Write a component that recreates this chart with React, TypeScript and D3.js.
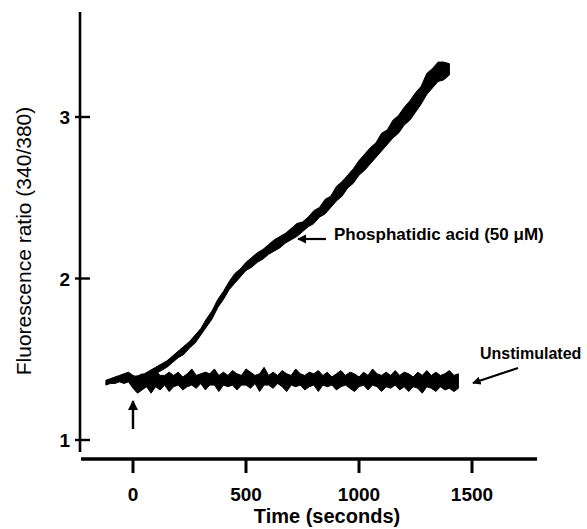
import * as d3 from "d3";

// time (s) and band (low/high) of the unstimulated trace
const unstimTime = [-120, -100, -80, -60, -40, -20, 0, 20, 40, 60, 80, 100, 120, 140, 160, 180, 200, 220, 240, 260, 280, 300, 320, 340, 360, 380, 400, 420, 440, 460, 480, 500, 520, 540, 560, 580, 600, 620, 640, 660, 680, 700, 720, 740, 760, 780, 800, 820, 840, 860, 880, 900, 920, 940, 960, 980, 1000, 1020, 1040, 1060, 1080, 1100, 1120, 1140, 1160, 1180, 1200, 1220, 1240, 1260, 1280, 1300, 1320, 1340, 1360, 1380, 1400, 1420, 1440];
const unstimLow = [1.34, 1.35, 1.35, 1.36, 1.35, 1.36, 1.32, 1.29, 1.31, 1.33, 1.29, 1.33, 1.31, 1.34, 1.30, 1.33, 1.34, 1.31, 1.33, 1.34, 1.32, 1.35, 1.31, 1.34, 1.34, 1.30, 1.34, 1.33, 1.34, 1.31, 1.34, 1.34, 1.32, 1.35, 1.30, 1.34, 1.34, 1.32, 1.35, 1.33, 1.30, 1.34, 1.33, 1.34, 1.31, 1.33, 1.34, 1.30, 1.34, 1.33, 1.34, 1.31, 1.33, 1.34, 1.32, 1.30, 1.33, 1.34, 1.31, 1.34, 1.33, 1.30, 1.33, 1.32, 1.34, 1.31, 1.33, 1.30, 1.33, 1.32, 1.29, 1.33, 1.32, 1.30, 1.33, 1.31, 1.32, 1.30, 1.32];
const unstimHigh = [1.37, 1.38, 1.39, 1.40, 1.41, 1.42, 1.40, 1.39, 1.41, 1.39, 1.41, 1.43, 1.40, 1.40, 1.42, 1.40, 1.42, 1.39, 1.41, 1.44, 1.40, 1.41, 1.42, 1.41, 1.44, 1.40, 1.42, 1.40, 1.43, 1.41, 1.40, 1.44, 1.42, 1.40, 1.41, 1.45, 1.40, 1.42, 1.40, 1.43, 1.41, 1.40, 1.44, 1.41, 1.40, 1.42, 1.41, 1.43, 1.40, 1.42, 1.39, 1.41, 1.43, 1.40, 1.42, 1.41, 1.39, 1.42, 1.40, 1.44, 1.41, 1.40, 1.42, 1.40, 1.43, 1.40, 1.42, 1.41, 1.39, 1.42, 1.40, 1.43, 1.40, 1.42, 1.40, 1.41, 1.43, 1.40, 1.41];

// phosphatidic acid trace
const paTime = [0, 25, 50, 75, 100, 125, 150, 175, 200, 225, 250, 275, 300, 325, 350, 375, 400, 425, 450, 475, 500, 525, 550, 575, 600, 625, 650, 675, 700, 725, 750, 775, 800, 825, 850, 875, 900, 925, 950, 975, 1000, 1025, 1050, 1075, 1100, 1125, 1150, 1175, 1200, 1225, 1250, 1275, 1300, 1325, 1350, 1375, 1400];
const paLow = [1.35, 1.36, 1.37, 1.39, 1.41, 1.43, 1.45, 1.48, 1.51, 1.53, 1.57, 1.60, 1.65, 1.70, 1.75, 1.82, 1.87, 1.93, 1.97, 2.01, 2.05, 2.07, 2.10, 2.12, 2.15, 2.17, 2.19, 2.22, 2.24, 2.26, 2.29, 2.32, 2.34, 2.38, 2.40, 2.44, 2.48, 2.51, 2.56, 2.59, 2.64, 2.67, 2.71, 2.75, 2.79, 2.83, 2.87, 2.90, 2.95, 2.98, 3.03, 3.08, 3.14, 3.18, 3.22, 3.23, 3.26];
const paHigh = [1.39, 1.40, 1.41, 1.43, 1.45, 1.47, 1.49, 1.52, 1.55, 1.58, 1.61, 1.65, 1.69, 1.75, 1.80, 1.87, 1.92, 1.98, 2.03, 2.06, 2.10, 2.13, 2.16, 2.18, 2.21, 2.24, 2.26, 2.28, 2.31, 2.34, 2.35, 2.38, 2.42, 2.44, 2.49, 2.51, 2.57, 2.60, 2.64, 2.68, 2.73, 2.77, 2.81, 2.84, 2.90, 2.92, 2.98, 3.01, 3.06, 3.10, 3.15, 3.19, 3.27, 3.30, 3.34, 3.34, 3.33];

const xTicks = [0, 500, 1000, 1500];
const yTicks = [1, 2, 3];

const font = "'Liberation Sans', Arial, Helvetica, sans-serif";

export default function App() {
  const width = 587, height = 529;
  const x = d3.scaleLinear([0, 1500], [133, 472]);
  const y = d3.scaleLinear([1, 3], [440, 117]);

  const area = d3.area<number[]>()
    .x(d => x(d[0]))
    .y0(d => y(d[1]))
    .y1(d => y(d[2]));

  const unstim = unstimTime.map((t, i) => [t, unstimLow[i], unstimHigh[i]]);
  const pa = paTime.map((t, i) => [t, paLow[i], paHigh[i]]);

  return (
    <svg width={width} height={height} style={{position: "absolute", left: 0, top: 0}} fontFamily={font}>
      <defs>
        <marker id="head" viewBox="0 0 10 10" refX="9" refY="5" markerWidth="4.2" markerHeight="4.2" orient="auto">
          <path d="M0,0 L10,5 L0,10 z" fill="#000"/>
        </marker>
      </defs>

      {/* y axis */}
      <line x1={80} x2={80} y1={y(3.65)} y2={y(0.926)} stroke="#000" strokeWidth={2.6}/>
      {yTicks.map(t => (
        <g key={t}>
          <line x1={75} x2={90} y1={y(t)} y2={y(t)} stroke="#000" strokeWidth={2.4}/>
          <text x={70} y={y(t) + 7} textAnchor="end" fontSize={19} fontWeight="bold">{t}</text>
        </g>
      ))}
      <text transform={`translate(31,241) rotate(-90)`} textAnchor="middle" fontSize={21}>Fluorescence ratio (340/380)</text>

      {/* x axis */}
      <line x1={x(-230)} x2={x(1788)} y1={459} y2={459} stroke="#000" strokeWidth={3.6}/>
      {xTicks.map(t => (
        <g key={t}>
          <line x1={x(t)} x2={x(t)} y1={459} y2={473} stroke="#000" strokeWidth={3}/>
          <text x={x(t)} y={501} textAnchor="middle" fontSize={19} fontWeight="bold">{t}</text>
        </g>
      ))}
      <text x={327} y={523} textAnchor="middle" fontSize={20} fontWeight="bold">Time (seconds)</text>

      {/* traces */}
      <path d={area(unstim) ?? ""} fill="#000" stroke="#000" strokeWidth={1}/>
      <path d={area(pa) ?? ""} fill="#000" stroke="#000" strokeWidth={1}/>

      {/* annotations */}
      <line x1={326} y1={239} x2={298} y2={239} stroke="#000" strokeWidth={2.2} markerEnd="url(#head)"/>
      <text x={334} y={240} fontSize={17} fontWeight="bold">Phosphatidic acid (50 μM)</text>
      <line x1={518} y1={368} x2={473} y2={383} stroke="#000" strokeWidth={2} markerEnd="url(#head)"/>
      <text x={480} y={359} fontSize={16} fontWeight="bold">Unstimulated</text>
      <line x1={x(0)} y1={429} x2={x(0)} y2={401} stroke="#000" strokeWidth={2.4} markerEnd="url(#head)"/>
    </svg>
  );
}
